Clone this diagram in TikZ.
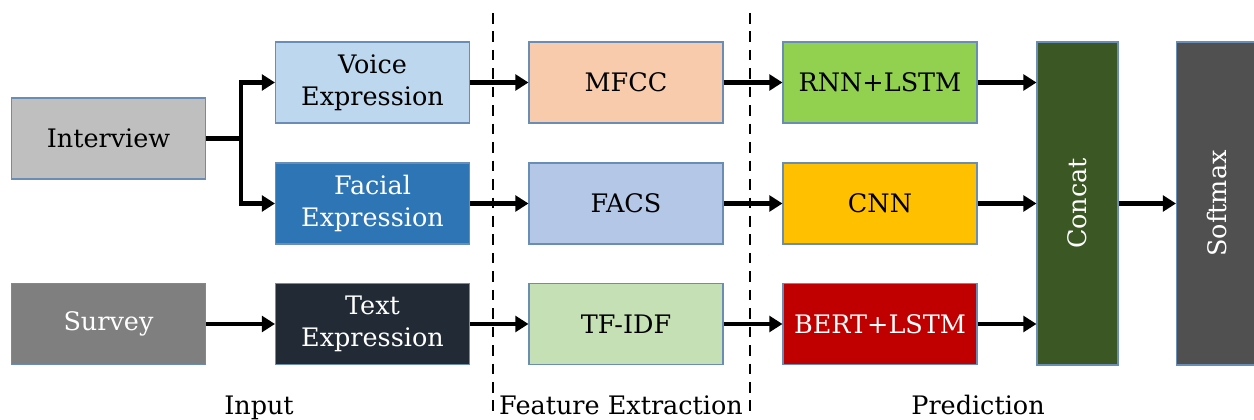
\documentclass[tikz,border=0pt]{standalone}
\usepackage{fontspec}
\setmainfont{DejaVu Serif}
\usetikzlibrary{calc}
\usetikzlibrary{arrows.meta}
\usetikzlibrary{positioning}

\definecolor{lgray}{HTML}{BFBFBF}
\definecolor{mgray}{HTML}{7F7F7F}
\definecolor{dgray}{HTML}{505050}
\definecolor{lblue}{HTML}{BDD7EE}
\definecolor{mblue}{HTML}{2E75B6}
\definecolor{navy}{HTML}{222A35}
\definecolor{peach}{HTML}{F8CBAD}
\definecolor{pblue}{HTML}{B4C7E7}
\definecolor{pgreen}{HTML}{C5E0B4}
\definecolor{lgreen}{HTML}{92D050}
\definecolor{amber}{HTML}{FFC000}
\definecolor{dred}{HTML}{C00000}
\definecolor{dgreen}{HTML}{3A5724}
\definecolor{edge}{HTML}{6A8DB5}

\tikzset{block/.style={draw=edge, line width=0.6pt, text centered, align=center, minimum height=1.62cm, minimum width=3.88cm, font=\fontsize{14.5}{18}\selectfont}}
\tikzset{tall/.style={block, minimum height=6.46cm, minimum width=1.62cm}}
\tikzset{connect/.style={draw, line width=2.3pt, -{Triangle[length=7.5pt,width=9pt]}}}
\tikzset{sep/.style={draw, line width=1.2pt, dash pattern=on 6pt off 4.5pt}}
\tikzset{stage/.style={font=\fontsize{14.5}{18}\selectfont, anchor=base}}

\begin{document}
\begin{tikzpicture}
\useasboundingbox (0,0) rectangle (25.08,8.4);
\clip (0,0) rectangle (25.08,8.4);

%inputs
\node[block,fill=lgray] (interview) at (2.17,5.63) {Interview};
\node[block,fill=mgray,text=white] (survey) at (2.17,1.92) {Survey};

%expressions
\node[block,fill=lblue] (voice) at (7.45,6.75) {Voice\\Expression};
\node[block,fill=mblue,text=white] (facial) at (7.45,4.33) {Facial\\Expression};
\node[block,fill=navy,text=white] (text) at (7.45,1.92) {Text\\Expression};

%feature extraction
\node[block,fill=peach] (mfcc) at (12.52,6.75) {MFCC};
\node[block,fill=pblue] (facs) at (12.52,4.33) {FACS};
\node[block,fill=pgreen] (tfidf) at (12.52,1.92) {TF-IDF};

%models
\node[block,fill=lgreen] (rnn) at (17.6,6.75) {RNN+LSTM};
\node[block,fill=amber] (cnn) at (17.6,4.33) {CNN};
\node[block,fill=dred,text=white] (bert) at (17.6,1.92) {BERT+LSTM};

%concat and softmax
\node[tall,fill=dgreen] (concat) at (21.55,4.33) {};
\node[rotate=90,text=white,font=\fontsize{14.5}{18}\selectfont] at (concat) {Concat};
\node[tall,fill=dgray] (softmax) at (24.34,4.33) {};
\node[rotate=90,text=white,font=\fontsize{14.5}{18}\selectfont] at (softmax) {Softmax};

%stage separators
\coordinate (s1top) at (9.86,8.14);
\coordinate (s1bot) at (9.86,0.1);
\coordinate (s2top) at (15.0,8.14);
\coordinate (s2bot) at (15.0,0.1);
\path[sep] (s1top) -- (s1bot);
\path[sep] (s2top) -- (s2bot);

%stage names
\node[stage] (lin) at (5.18,0.1) {Input};
\node[stage] (lfe) at (12.42,0.1) {Feature Extraction};
\node[stage] (lpr) at (19.56,0.1) {Prediction};

%connections
\path[connect] (interview.east) -- ++(0.7cm,0) |- (voice.west);
\path[connect] (interview.east) -- ++(0.7cm,0) |- (facial.west);
\path[connect] (survey) -- (text);
\path[connect] (voice) -- (mfcc);
\path[connect] (facial) -- (facs);
\path[connect] (text) -- (tfidf);
\path[connect] (mfcc) -- (rnn);
\path[connect] (facs) -- (cnn);
\path[connect] (tfidf) -- (bert);
\path[connect] (rnn.east) -- (rnn.east -| concat.west);
\path[connect] (cnn.east) -- (cnn.east -| concat.west);
\path[connect] (bert.east) -- (bert.east -| concat.west);
\path[connect] (concat) -- (softmax);

\end{tikzpicture}
\end{document}
